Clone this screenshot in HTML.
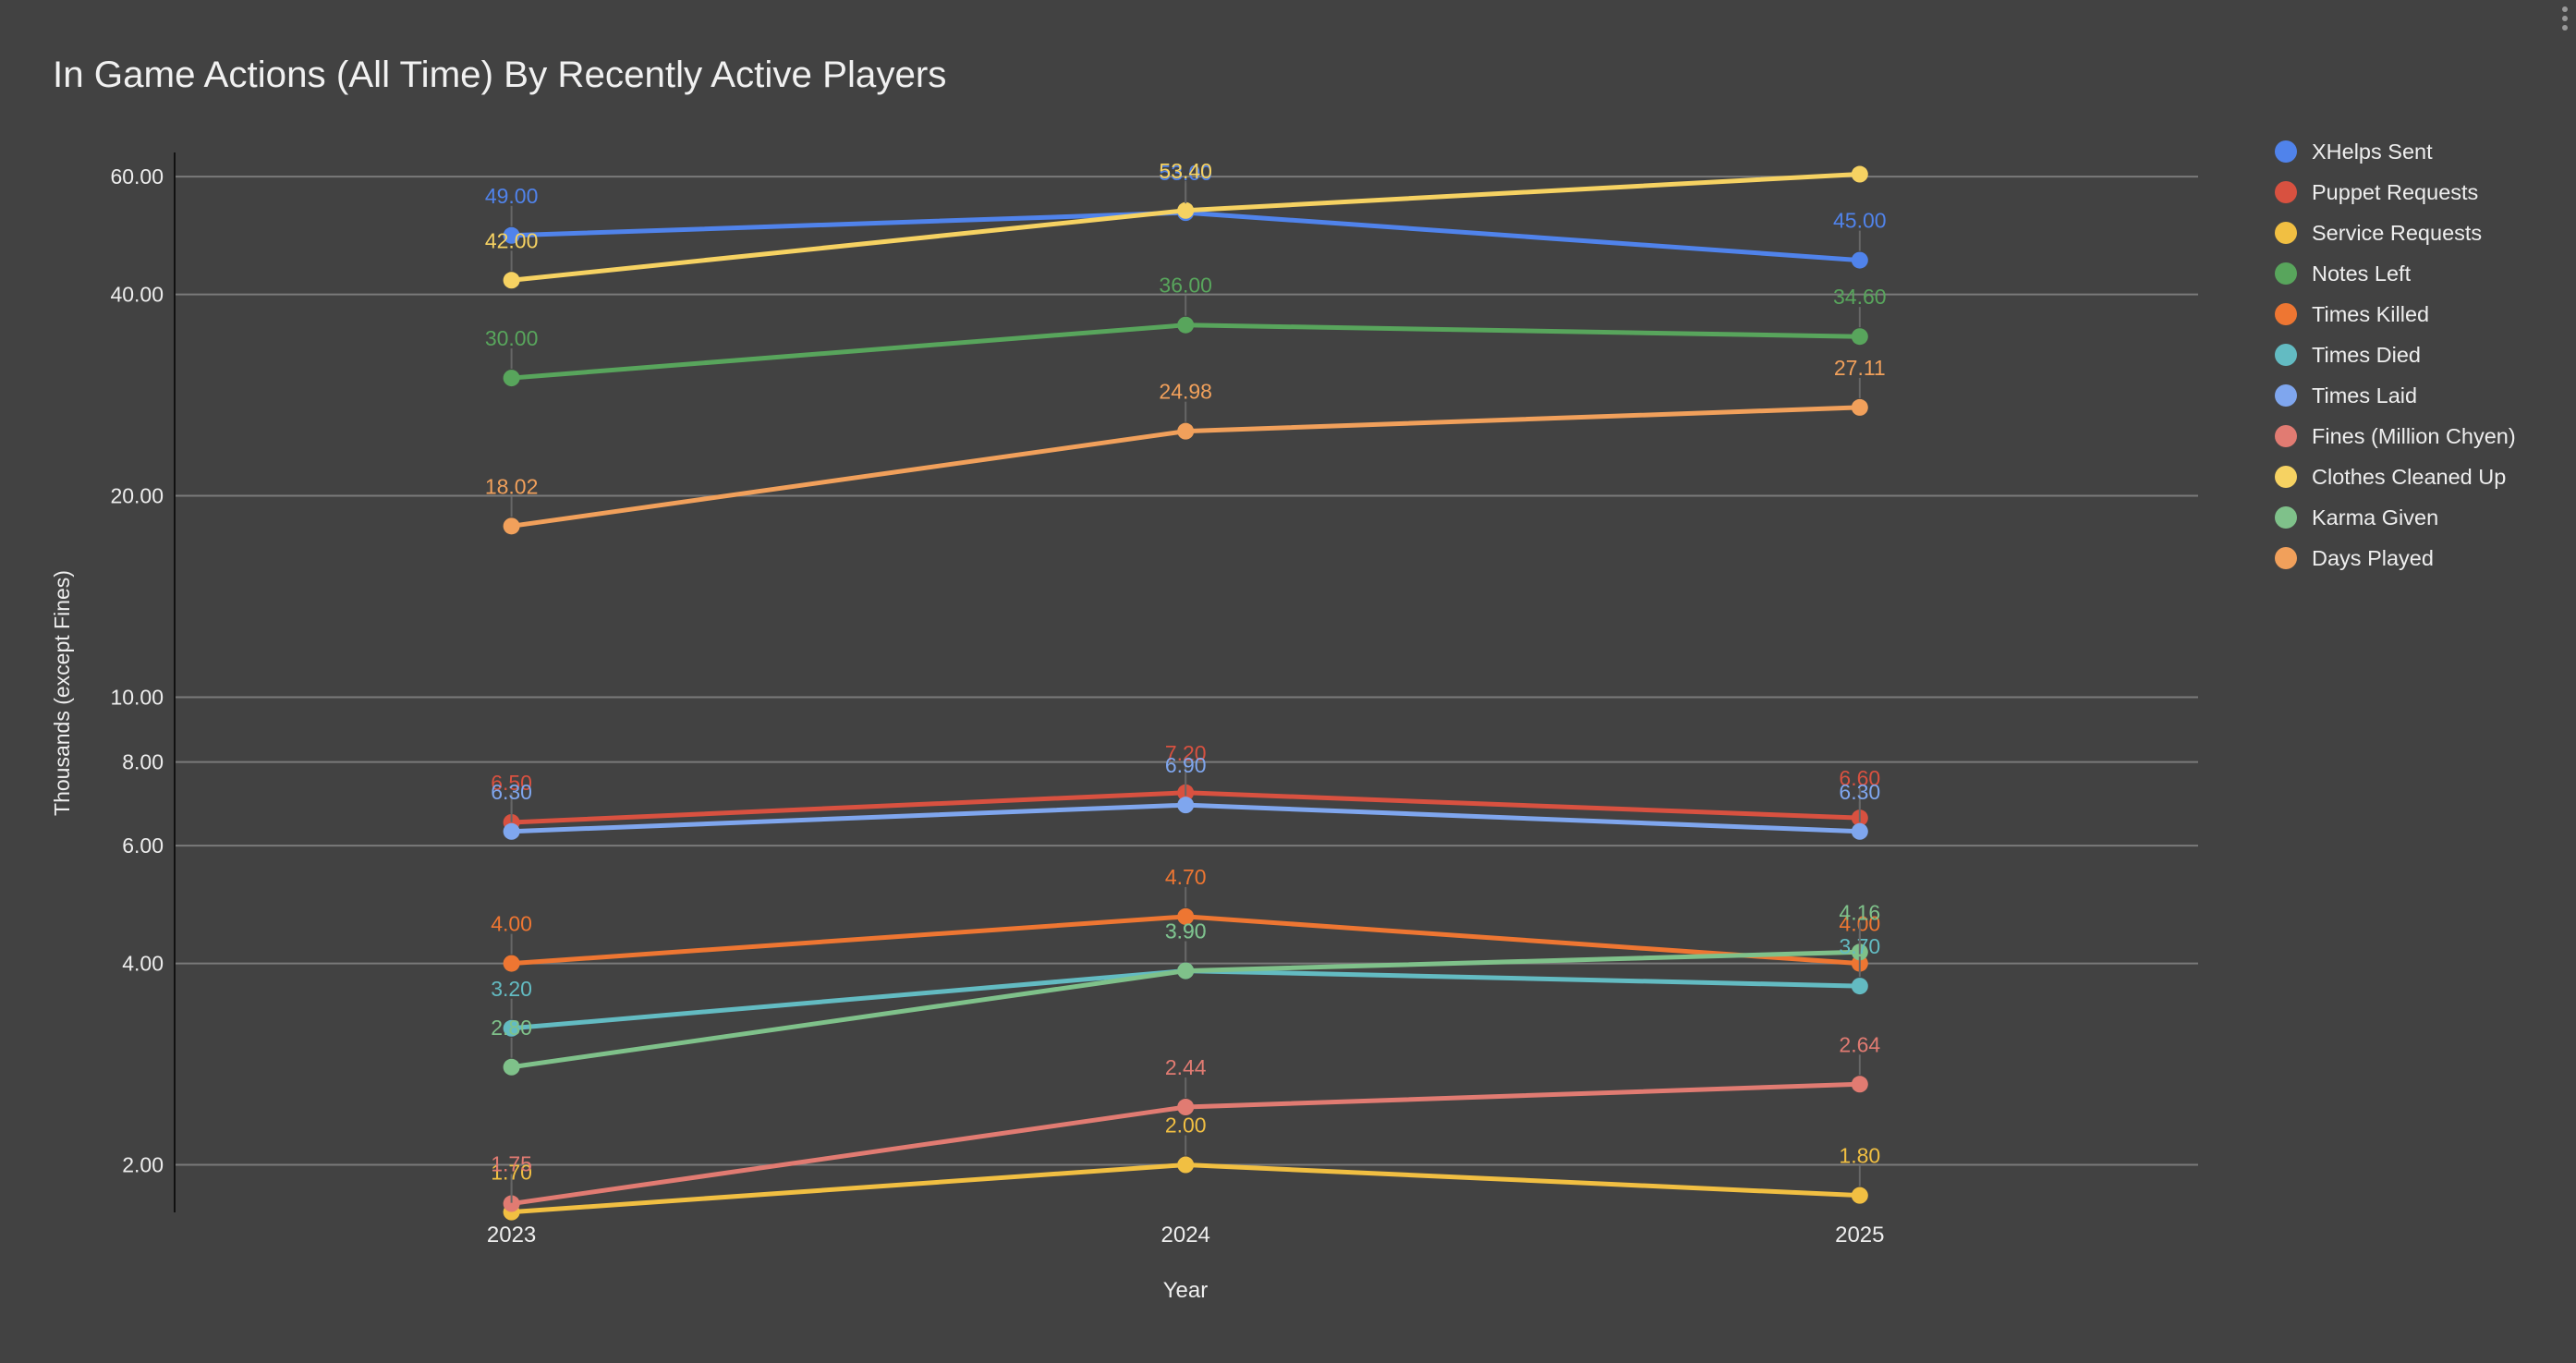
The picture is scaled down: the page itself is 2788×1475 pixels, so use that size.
<!DOCTYPE html>
<html><head><meta charset="utf-8"><style>
html,body{margin:0;padding:0;background:#424242;}
body{width:2788px;height:1470px;overflow:hidden;font-family:"Liberation Sans",Arial,sans-serif;}
svg text{font-family:"Liberation Sans",Arial,sans-serif;}
</style></head><body>
<svg id="chart" width="2788" height="1470" xmlns="http://www.w3.org/2000/svg">
<rect width="2788" height="1470" fill="#424242"/>
<text x="57" y="94" font-size="40.3" fill="#f1f1f1">In Game Actions (All Time) By Recently Active Players</text>
<g><circle cx="2776" cy="10" r="3" fill="#999"/><circle cx="2776" cy="20" r="3" fill="#999"/><circle cx="2776" cy="30" r="3" fill="#999"/></g>
<text transform="translate(75,750) rotate(-90)" text-anchor="middle" font-size="23" fill="#eeeeee">Thousands (except Fines)</text>
<text x="1283" y="1404" text-anchor="middle" font-size="24" fill="#eeeeee">Year</text>
<g id="grid"></g><g id="series"></g><g id="labels"></g><g id="legend"></g>
</svg>
<script>
const categories = ["2023","2024","2025"];
const yTicks = [2,4,6,8,10,20,40,60];
const seriesNames = ["XHelps Sent","Puppet Requests","Service Requests","Notes Left","Times Killed","Times Died","Times Laid","Fines (Million Chyen)","Clothes Cleaned Up","Karma Given","Days Played"];
const xhelps = [49, 53, 45];
const puppet = [6.5, 7.2, 6.6];
const service = [1.7, 2.0, 1.8];
const notes = [30, 36, 34.6];
const killed = [4.0, 4.7, 4.0];
const died = [3.2, 3.9, 3.7];
const laid = [6.3, 6.9, 6.3];
const fines = [1.75, 2.44, 2.64];
const clothes = [42, 53.4, 60.5];
const karma = [2.8, 3.9, 4.16];
const days = [18.02, 24.98, 27.11];
const seriesValues = [xhelps,puppet,service,notes,killed,died,laid,fines,clothes,karma,days];
const colors = ["#5083eb","#d85140","#f1bf42","#58a55c","#ee7632","#63bbc2","#7fa6ee","#e17b72","#f6d262","#7fc18a","#f1a05b"];

const NS="http://www.w3.org/2000/svg";
const X0=553.6, XSTEP=729.6, PLOT_L=189, PLOT_R=2379, PLOT_T=165, PLOT_B=1312;
function xPos(i){return X0+i*XSTEP;}
function yPos(v){return 754.5-724*Math.log10(v/10);}
function mk(tag,attrs,parent){const e=document.createElementNS(NS,tag);for(const k in attrs)e.setAttribute(k,attrs[k]);parent.appendChild(e);return e;}

const grid=document.getElementById('grid');
yTicks.forEach(t=>{
  const y=yPos(t);
  const l=mk('line',{x1:PLOT_L,x2:PLOT_R,y1:y,y2:y,stroke:'#7a7a7a','stroke-width':2},grid);
  
  
  const tx=mk('text',{x:177,y:y+8,'text-anchor':'end','font-size':23,fill:'#eeeeee'},grid);
  tx.textContent=t.toFixed(2);
  
  
});
const ax=mk('line',{x1:PLOT_L,x2:PLOT_L,y1:PLOT_T,y2:PLOT_B,stroke:'#111','stroke-width':2},grid);


categories.forEach((c,i)=>{
  const tx=mk('text',{x:xPos(i),y:1344,'text-anchor':'middle','font-size':24,fill:'#eeeeee'},grid);
  tx.textContent=c;
  
  
});

const sg=document.getElementById('series'), lg=document.getElementById('labels');
seriesValues.forEach((vals,s)=>{
  const col=colors[s];
  const pts=vals.map((v,i)=>xPos(i)+','+yPos(v)).join(' ');
  const pl=mk('polyline',{points:pts,fill:'none',stroke:col,'stroke-width':5,'stroke-linejoin':'round'},sg);
  
  
  vals.forEach((v,i)=>{
    const x=xPos(i), y=yPos(v);
    const ly=y-43;
    if(ly-10>PLOT_T){
      const ld=mk('line',{x1:x,x2:x,y1:y-10,y2:y-32,stroke:'#666','stroke-width':2},lg);
      
      
      const tx=mk('text',{x:x,y:ly+8,'text-anchor':'middle','font-size':23,fill:col},lg);
      tx.textContent=v.toFixed(2);
      
      
    }
    const c=mk('circle',{cx:x,cy:y,r:9,fill:col},sg);
    
    
  });
});

const leg=document.getElementById('legend');
seriesNames.forEach((n,i)=>{
  const y=164+i*44;
  const g=mk('g',{},leg);
  
  
  mk('circle',{cx:2474,cy:y,r:12,fill:colors[i]},g);
  const tx=mk('text',{x:2502,y:y+8,'font-size':23.5,fill:'#eeeeee'},g);
  tx.textContent=n;
});
</script>
</body></html>
